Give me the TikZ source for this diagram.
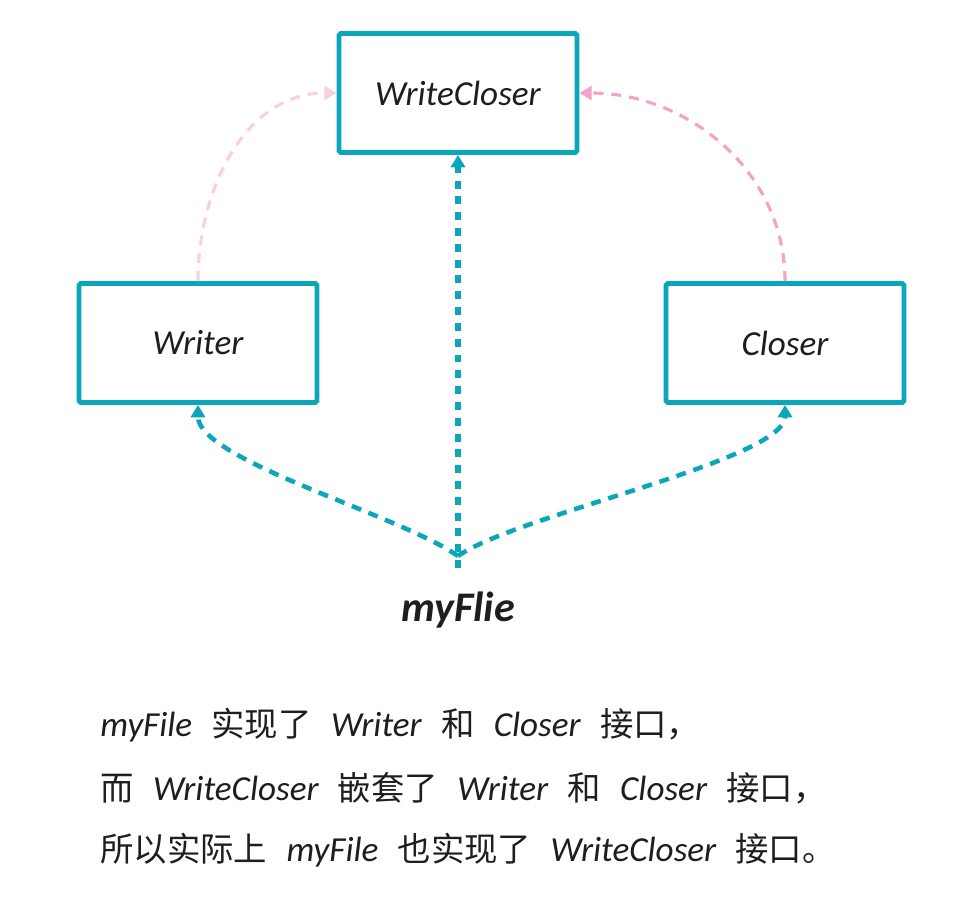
\documentclass[tikz,border=0pt]{standalone}
\usepackage{fontspec}
\setmainfont{Carlito}
\newfontfamily\cjk{Noto Sans CJK SC}
\usetikzlibrary{arrows.meta}
\definecolor{boxteal}{RGB}{10,166,185}
\definecolor{lightpink}{RGB}{249,208,226}
\definecolor{darkpink}{RGB}{240,164,202}
\definecolor{ink}{RGB}{30,30,30}
\newcommand{\zh}[1]{{\cjk\fontsize{19}{22}\selectfont #1}}
\newcommand{\widesp}{\spaceskip=11pt plus 1pt minus 1pt\relax}
\begin{document}
\begin{tikzpicture}[x=0.02cm, y=-0.02cm,
  iface/.style={draw=boxteal, line width=2.8pt, rounded corners=1pt, minimum width=4.76cm, minimum height=2.38cm, inner sep=0pt, text=ink, font=\fontsize{20}{24}\selectfont\itshape},
  impl/.style={boxteal, line width=2.6pt, dash pattern=on 5.7pt off 4.5pt, -{Triangle[length=7pt, width=8pt]}},
  embed/.style={line width=1.8pt, dash pattern=on 5.7pt off 4.5pt, -{Triangle[length=7pt, width=8pt]}},
  note/.style={anchor=west, text=ink, inner sep=0pt, font=\fontsize{20}{24}\selectfont\itshape}]
\useasboundingbox (0,0) rectangle (978,920);
\node[iface] (wc) at (458,93){WriteCloser};
\node[iface] (wr) at (198,343){Writer};
\node[iface] (cl) at (785,343){Closer};
\coordinate (src) at (458,568);
\coordinate (fork) at (458,556);
\node[text=ink, font=\fontsize{24}{28}\selectfont\bfseries\itshape] (my) at (458,610){myFlie};
\draw[embed, lightpink] (wr.north) to[out=90, in=180] (wc.west);
\draw[embed, darkpink] (cl.north) to[out=90, in=0] (wc.east);
\draw[impl, line width=3.2pt, dash pattern=on 4.5pt off 4.5pt] (src) -- (wc.south);
\draw[impl] (fork) .. controls (400,515) and (198,460) .. (wr.south);
\draw[impl] (fork) .. controls (516,515) and (785,460) .. (cl.south);
\node[note] (t1) at (100,725){\widesp myFile \zh{实现了} Writer \zh{和} Closer \zh{接口，}};
\node[note] (t2) at (100,788){\widesp\zh{而} WriteCloser \zh{嵌套了} Writer \zh{和} Closer \zh{接口，}};
\node[note] (t3) at (100,850){\widesp\zh{所以实际上} myFile \zh{也实现了} WriteCloser \zh{接口。}};
\end{tikzpicture}
\end{document}
